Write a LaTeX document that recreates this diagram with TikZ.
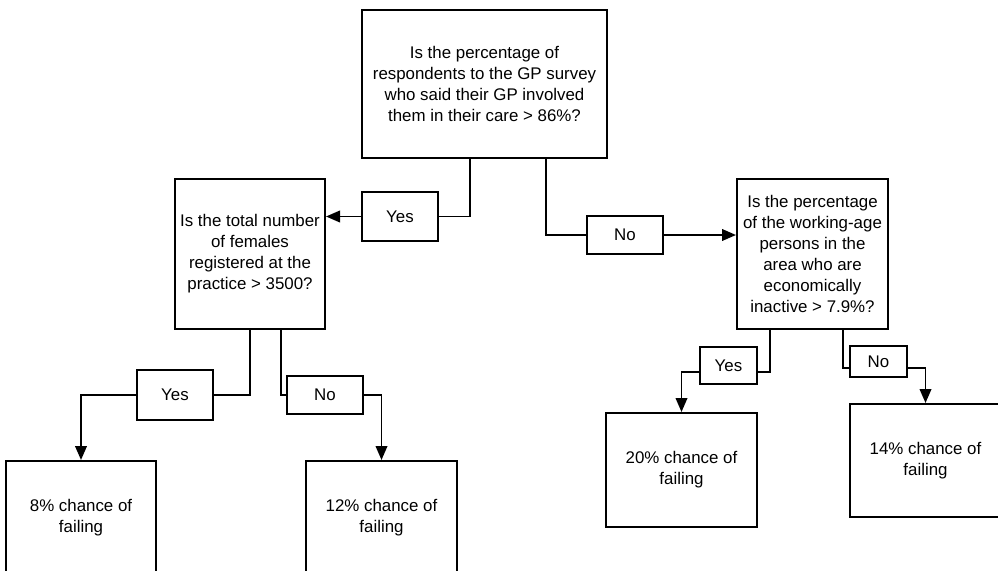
\documentclass[tikz,border=0pt]{standalone}
\usepackage{fontspec}
\setmainfont{Liberation Sans}
\usetikzlibrary{arrows.meta,positioning,calc}

\begin{document}
\begin{tikzpicture}[x=0.025cm,y=-0.025cm,line width=1.4pt,
                    font=\fontsize{12}{14.9}\selectfont,
                    box node/.style={draw,rectangle,align=center,inner sep=0pt},
                    question node/.style={box node,minimum width=3.75cm,minimum height=3.75cm},
                    leaf node/.style={box node,minimum width=3.775cm,minimum height=2.825cm},
                    answer node/.style={box node,minimum width=1.9cm},
                    small answer/.style={box node,minimum width=1.425cm},
                    branch arrow/.style={-{Triangle[length=0.35cm,width=0.29cm]}}]

  \path[use as bounding box,clip] (0,0) rectangle (998,571);

  % questions
  \node[question node,minimum width=6.125cm,minimum height=3.7cm] (q1) at (484.5,84)
    {Is the percentage of\\respondents to the GP survey\\who said their GP involved\\them in their care > 86\%?};
  \node[question node] (q2) at (250,254)
    {Is the total number\\of females\\registered at the\\practice > 3500?};
  \node[question node,minimum width=3.775cm] (q3) at (812.5,254)
    {Is the percentage\\of the working-age\\persons in the\\area who are\\economically\\inactive > 7.9\%?};

  % answers
  \node[answer node,minimum height=1.225cm] (y1) at (400,216.5) {Yes};
  \node[answer node,minimum height=0.95cm] (n1) at (625,235) {No};
  \node[answer node,minimum height=1.25cm] (y2) at (175,395) {Yes};
  \node[answer node,minimum height=0.95cm] (n2) at (325,395) {No};
  \node[small answer,minimum height=0.925cm] (y3) at (728.5,365.5) {Yes};
  \node[small answer,minimum height=0.775cm] (n3) at (878.5,361.5) {No};

  % leaves
  \node[leaf node,minimum width=3.75cm] (l1) at (81,517.5) {8\% chance of\\failing};
  \node[leaf node] (l2) at (381.5,517.5) {12\% chance of\\failing};
  \node[leaf node,minimum height=2.85cm] (l3) at (681.5,470) {20\% chance of\\failing};
  \node[leaf node] (l4) at (925.5,460.5) {14\% chance of\\failing};

  \draw (q1.south) ++(-14.5,0) |- (y1.east);
  \draw[branch arrow] (y1.west) -- (y1.west -| q2.east);
  \draw (q1.south) ++(61.5,0) |- (n1.west);
  \draw[branch arrow] (n1.east) -- (n1.east -| q3.west);

  \draw (q2.south) |- (y2.east);
  \draw[branch arrow] (y2.west) -| (l1.north);
  \draw (q2.south) ++(31,0) |- (n2.west);
  \draw[branch arrow] (n2.east) -| (l2.north);

  \draw (q3.south) ++(-42.5,0) |- ($(y3.east)+(0,6.5)$);
  \draw[branch arrow] ($(y3.west)+(0,6.5)$) -| (l3.north);
  \draw (q3.south) ++(30.5,0) |- ($(n3.west)+(0,6.5)$);
  \draw[branch arrow] ($(n3.east)+(0,6.5)$) -| (l4.north);

\end{tikzpicture}
\end{document}
